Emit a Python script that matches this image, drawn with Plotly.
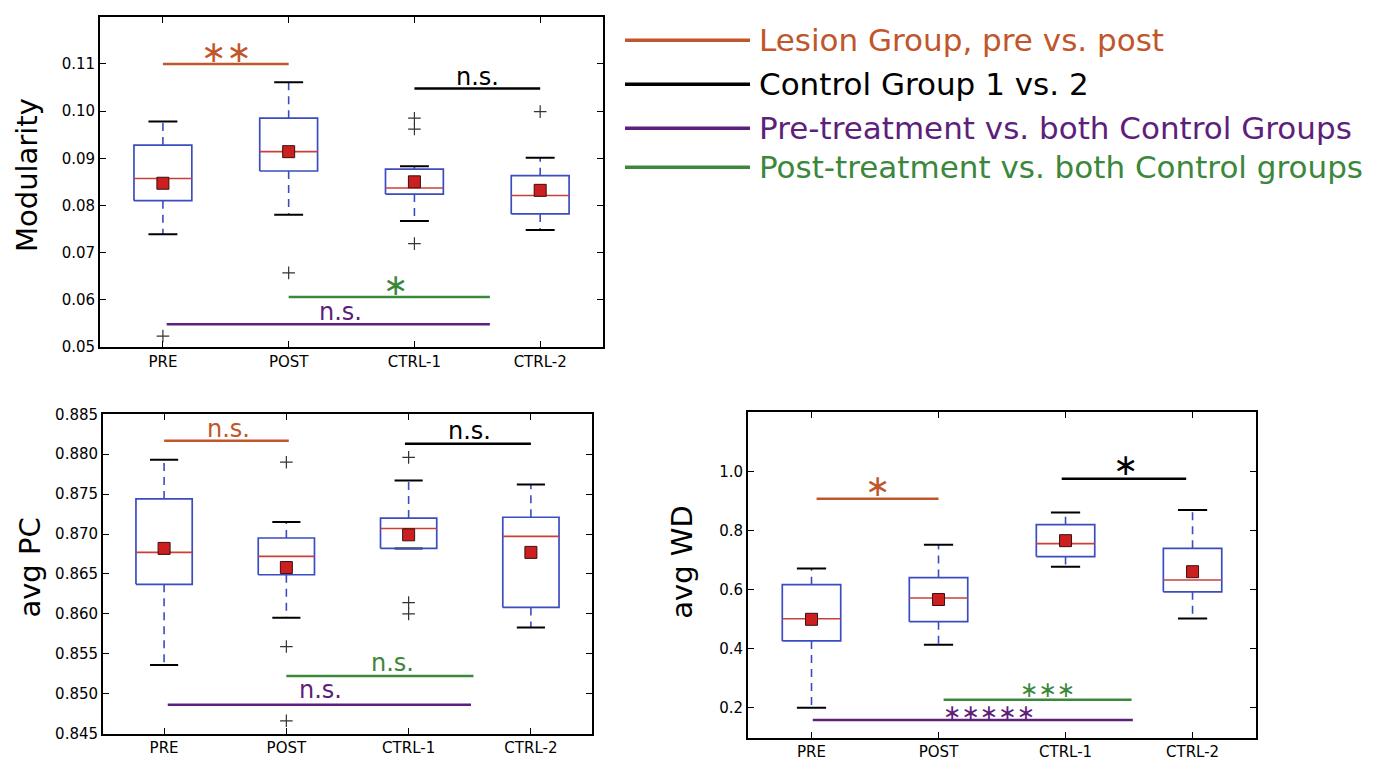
import plotly.graph_objects as go

groups = ["PRE", "POST", "CTRL-1", "CTRL-2"]

# ---- Modularity (top panel) ----
mod_lo = [0.0739, 0.0780, 0.0767, 0.0748]
mod_q1 = [0.0810, 0.0873, 0.0824, 0.0782]
mod_med = [0.0857, 0.0914, 0.0837, 0.0821]
mod_q3 = [0.0928, 0.0985, 0.0877, 0.0863]
mod_hi = [0.0978, 0.1061, 0.0883, 0.0901]
mod_mean = [0.0847, 0.0914, 0.0850, 0.0832]
mod_out = [[0.0523], [0.0657], [0.0985, 0.0962, 0.0719], [0.0999]]

# ---- avg PC (bottom-left panel) ----
pc_lo = [0.8536, 0.8595, 0.8682, 0.8583]
pc_q1 = [0.8637, 0.8649, 0.8682, 0.8608]
pc_med = [0.8677, 0.8672, 0.8707, 0.8697]
pc_q3 = [0.8744, 0.8695, 0.8720, 0.8721]
pc_hi = [0.8793, 0.8715, 0.8767, 0.8762]
pc_mean = [0.8682, 0.8658, 0.8699, 0.8677]
pc_out = [[], [0.8790, 0.8559, 0.8466], [0.8796, 0.8614, 0.8600], []]

# ---- avg WD (bottom-right panel) ----
wd_lo = [0.201, 0.414, 0.678, 0.503]
wd_q1 = [0.427, 0.492, 0.712, 0.593]
wd_med = [0.502, 0.572, 0.756, 0.633]
wd_q3 = [0.617, 0.641, 0.820, 0.740]
wd_hi = [0.672, 0.752, 0.861, 0.870]
wd_mean = [0.500, 0.567, 0.766, 0.661]
wd_out = [[], [], [], []]

# ---- comparisons / significance bars ----
comparisons = ["Lesion Group, pre vs. post", "Control Group 1 vs. 2",
               "Pre-treatment vs. both Control Groups",
               "Post-treatment vs. both Control groups"]
comp_colors = ["#c0562b", "#000000", "#5e1f7c", "#3b873b"]

mod_sig_start = [1.0, 3.0, 1.03, 2.0]
mod_sig_end = [2.0, 4.0, 3.6, 3.6]
mod_sig_y = [0.1100, 0.1048, 0.0548, 0.0606]
mod_sig_label = ["∗∗", "n.s.", "n.s.", "∗"]
mod_sig_lx = [1.5, 3.5, 2.41, 2.85]
mod_sig_ly = [0.1126, 0.1072, 0.0575, 0.0633]

pc_sig_start = [1.0, 2.97, 1.03, 2.0]
pc_sig_end = [2.02, 4.0, 3.51, 3.53]
pc_sig_y = [0.8817, 0.8813, 0.8486, 0.8522]
pc_sig_label = ["n.s.", "n.s.", "n.s.", "n.s."]
pc_sig_lx = [1.53, 3.5, 2.28, 2.87]
pc_sig_ly = [0.8831, 0.8829, 0.8504, 0.8538]

wd_sig_start = [1.04, 2.97, 1.01, 2.04]
wd_sig_end = [2.0, 3.95, 3.53, 3.52]
wd_sig_y = [0.908, 0.975, 0.159, 0.228]
wd_sig_label = ["∗", "∗", "∗∗∗∗∗", "∗∗∗"]
wd_sig_lx = [1.52, 3.47, 2.40, 2.86]
wd_sig_ly = [0.954, 1.022, 0.186, 0.261]

BOX_W = 0.46
CAP_W = 0.23
BLUE = "#3b4cc0"
MED = "#c8403a"
FONT = "DejaVu Sans"

fig = go.Figure()


def add_panel(xa, ya, lo, q1, med, q3, hi, mean, outs):
    xr, yr = "x" + xa, "y" + ya
    bx, by, wx, wy, cx, cy, mx, my, ox, oy = [], [], [], [], [], [], [], [], [], []
    for i in range(len(groups)):
        p = i + 1
        h = BOX_W / 2
        bx += [p - h, p + h, p + h, p - h, p - h, None]
        by += [q1[i], q1[i], q3[i], q3[i], q1[i], None]
        wx += [p, p, None, p, p, None]
        wy += [q1[i], lo[i], None, q3[i], hi[i], None]
        c = CAP_W / 2
        cx += [p - c, p + c, None, p - c, p + c, None]
        cy += [lo[i], lo[i], None, hi[i], hi[i], None]
        mx += [p - h, p + h, None]
        my += [med[i], med[i], None]
        for v in outs[i]:
            ox.append(p)
            oy.append(v)
    common = dict(xaxis=xr, yaxis=yr, showlegend=False, hoverinfo="skip", mode="lines")
    fig.add_trace(go.Scatter(x=wx, y=wy, line=dict(color=BLUE, width=1.6, dash="8px,6px"), **common))
    fig.add_trace(go.Scatter(x=cx, y=cy, line=dict(color="black", width=2), **common))
    fig.add_trace(go.Scatter(x=bx, y=by, line=dict(color=BLUE, width=1.7), **common))
    fig.add_trace(go.Scatter(x=mx, y=my, line=dict(color=MED, width=1.6), **common))
    fig.add_trace(go.Scatter(x=ox, y=oy, mode="markers", xaxis=xr, yaxis=yr, showlegend=False,
                             marker=dict(symbol="cross-thin", size=9, line=dict(color="#333333", width=1.2))))
    fig.add_trace(go.Scatter(x=[i + 1 for i in range(len(groups))], y=mean, mode="markers",
                             xaxis=xr, yaxis=yr, showlegend=False,
                             marker=dict(symbol="square", size=12, color="#cc1f1f",
                                         line=dict(color="#3a1010", width=1))))


def add_sig(xa, ya, start, end, yv, labels, lx, ly, sizes):
    xr, yr = "x" + xa, "y" + ya
    for k in range(len(comparisons)):
        fig.add_trace(go.Scatter(x=[start[k], end[k]], y=[yv[k], yv[k]], mode="lines",
                                 xaxis=xr, yaxis=yr, showlegend=False, hoverinfo="skip",
                                 line=dict(color=comp_colors[k], width=2.5)))
        fig.add_annotation(x=lx[k], y=ly[k], xref=xr, yref=yr, text=labels[k], showarrow=False,
                           xanchor="center", yanchor="middle",
                           font=dict(family=FONT, size=sizes[k], color=comp_colors[k]))


add_panel("", "", mod_lo, mod_q1, mod_med, mod_q3, mod_hi, mod_mean, mod_out)
add_panel("2", "2", pc_lo, pc_q1, pc_med, pc_q3, pc_hi, pc_mean, pc_out)
add_panel("3", "3", wd_lo, wd_q1, wd_med, wd_q3, wd_hi, wd_mean, wd_out)

add_sig("", "", mod_sig_start, mod_sig_end, mod_sig_y, mod_sig_label, mod_sig_lx, mod_sig_ly,
        [30, 24, 24, 30])
add_sig("2", "2", pc_sig_start, pc_sig_end, pc_sig_y, pc_sig_label, pc_sig_lx, pc_sig_ly,
        [24, 24, 24, 24])
add_sig("3", "3", wd_sig_start, wd_sig_end, wd_sig_y, wd_sig_label, wd_sig_lx, wd_sig_ly,
        [30, 30, 22, 22])

xcommon = dict(range=[0.5, 4.5], tickvals=[1, 2, 3, 4], ticktext=groups, ticks="inside",
               ticklen=6, tickwidth=1, tickcolor="black", mirror="allticks", showline=True,
               linecolor="black", linewidth=1.8, showgrid=False, zeroline=False,
               tickfont=dict(family=FONT, size=15, color="black"))
ycommon = dict(ticks="inside", ticklen=6, tickwidth=1, tickcolor="black", mirror="allticks",
               showline=True, linecolor="black", linewidth=1.8, showgrid=False, zeroline=False,
               tickfont=dict(family=FONT, size=15, color="black"))

fig.update_layout(
    width=1395, height=768, margin=dict(l=0, r=0, t=0, b=0),
    paper_bgcolor="white", plot_bgcolor="white",
    xaxis=dict(domain=[0.0717, 0.4323], anchor="y", **xcommon),
    yaxis=dict(domain=[0.5495, 0.9896], anchor="x", range=[0.05, 0.12],
               tickvals=[0.05, 0.06, 0.07, 0.08, 0.09, 0.10, 0.11], tickformat=".2f", **ycommon),
    xaxis2=dict(domain=[0.0738, 0.4244], anchor="y2", **xcommon),
    yaxis2=dict(domain=[0.0339, 0.4596], anchor="x2", range=[0.845, 0.885],
                tickvals=[0.845, 0.85, 0.855, 0.86, 0.865, 0.87, 0.875, 0.88, 0.885],
                tickformat=".3f", **ycommon),
    xaxis3=dict(domain=[0.5362, 0.9004], anchor="y3", **xcommon),
    yaxis3=dict(domain=[0.0286, 0.4622], anchor="x3", range=[0.1, 1.2],
                tickvals=[0.2, 0.4, 0.6, 0.8, 1.0], tickformat=".1f", **ycommon),
)

# axis titles
for txt, px, py in [("Modularity", 27, 170), ("avg PC", 30, 572), ("avg WD", 682, 566)]:
    fig.add_annotation(x=px / 1395, y=1 - py / 768, xref="paper", yref="paper", text=txt,
                       textangle=-90, showarrow=False, xanchor="center", yanchor="middle",
                       font=dict(family=FONT, size=29, color="black"))

# legend (line keys + coloured text)
leg_y = [32, 77, 122, 162]
for k in range(len(comparisons)):
    yy = 1 - leg_y[k] / 768
    fig.add_shape(type="line", xref="paper", yref="paper", x0=625 / 1395, x1=750 / 1395,
                  y0=yy, y1=yy, line=dict(color=comp_colors[k], width=3.5))
    fig.add_annotation(x=757 / 1395, y=yy, xref="paper", yref="paper", text=comparisons[k],
                       showarrow=False, xanchor="left", yanchor="middle",
                       font=dict(family=FONT, size=31, color=comp_colors[k]))

fig.write_html("out.html", config={"displayModeBar": False},
               post_script="document.body.style.margin='0';document.body.style.overflow='hidden';")
